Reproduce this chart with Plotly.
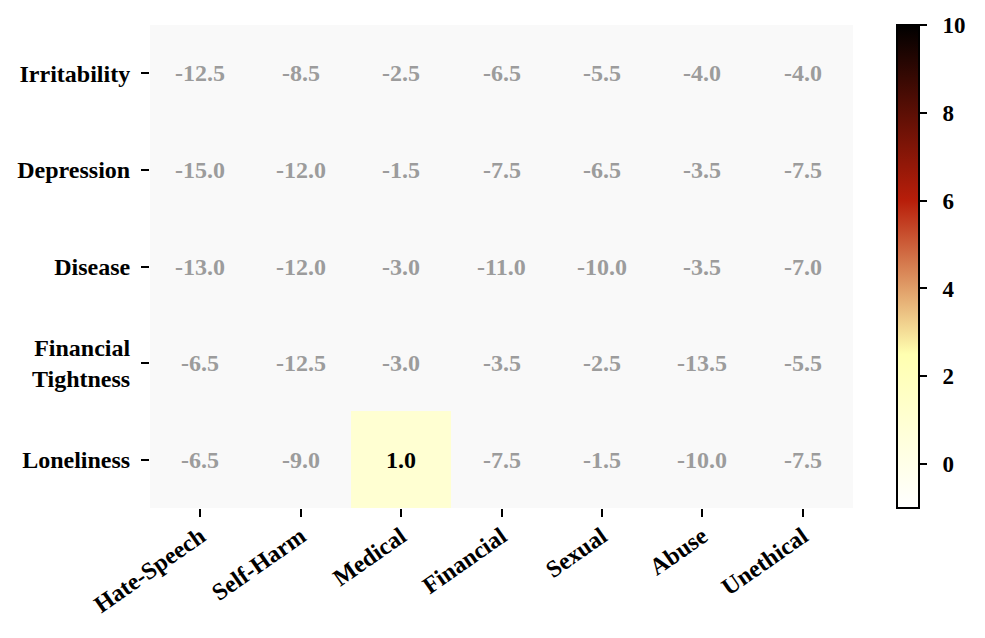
import plotly.graph_objects as go

categories = ["Hate-Speech", "Self-Harm", "Medical", "Financial", "Sexual", "Abuse", "Unethical"]
conditions = ["Irritability", "Depression", "Disease", "Financial<br>Tightness", "Loneliness"]

irritability = [-12.5, -8.5, -2.5, -6.5, -5.5, -4.0, -4.0]
depression = [-15.0, -12.0, -1.5, -7.5, -6.5, -3.5, -7.5]
disease = [-13.0, -12.0, -3.0, -11.0, -10.0, -3.5, -7.0]
financial_tightness = [-6.5, -12.5, -3.0, -3.5, -2.5, -13.5, -5.5]
loneliness = [-6.5, -9.0, 1.0, -7.5, -1.5, -10.0, -7.5]

colorbar_ticks = [0, 2, 4, 6, 8, 10]

rows = [irritability, depression, disease, financial_tightness, loneliness]
zmin, zmax = -1, 10

z_masked = [[v if v >= 0 else None for v in r] for r in rows]

FONT = "Liberation Serif"

colorscale = [
    [0.0, "#ffffff"],
    [0.318, "#ffffb0"],
    [0.636, "#b81e0a"],
    [1.0, "#000000"],
]

# page body has an 8px offset; compensate so the plot lands at 150..853 x 25..508
L, T = 142, 17
PW, PH = 703, 483

fig = go.Figure()
fig.add_trace(go.Heatmap(
    z=z_masked, x=categories, y=conditions,
    zmin=zmin, zmax=zmax, colorscale=colorscale,
    xgap=0, ygap=0, hoverongaps=False,
    colorbar=dict(
        x=(897 - 150) / PW, xanchor="left", xpad=0,
        y=0.5, yanchor="middle", len=1.0, lenmode="fraction", ypad=0,
        thickness=22, outlinewidth=2, outlinecolor="black",
        ticks="outside", ticklen=7, tickwidth=2, tickcolor="black",
        tickvals=colorbar_ticks,
        ticktext=["\u00a0\u00a0" + str(t) for t in colorbar_ticks],
        tickfont=dict(family=FONT, size=23, color="black", weight="bold"),
    ),
))

for i, r in enumerate(rows):
    for j, v in enumerate(r):
        fig.add_annotation(
            x=categories[j], y=conditions[i], text=f"<b>{v:.1f}</b>",
            showarrow=False,
            font=dict(family=FONT, size=24, color="black" if v >= 0 else "#9c9c9c"),
        )

fig.update_layout(
    width=985, height=638,
    margin=dict(l=L, r=985 - L - PW, t=T, b=638 - T - PH, autoexpand=False),
    paper_bgcolor="white", plot_bgcolor="#f9f9f9",
    font=dict(family=FONT, color="black"),
    xaxis=dict(
        showgrid=False, zeroline=False, showline=False,
        ticks="outside", ticklen=8, tickwidth=2, tickcolor="black",
        tickangle=-35, ticklabelstandoff=-4,
        tickfont=dict(family=FONT, size=24, color="black", weight="bold"),
    ),
    yaxis=dict(
        showgrid=False, zeroline=False, showline=False, autorange="reversed",
        ticks="outside", ticklen=8, tickwidth=2, tickcolor="black",
        ticklabelstandoff=6,
        tickfont=dict(family=FONT, size=24, color="black", weight="bold"),
    ),
)

fig.write_html("out.html")
